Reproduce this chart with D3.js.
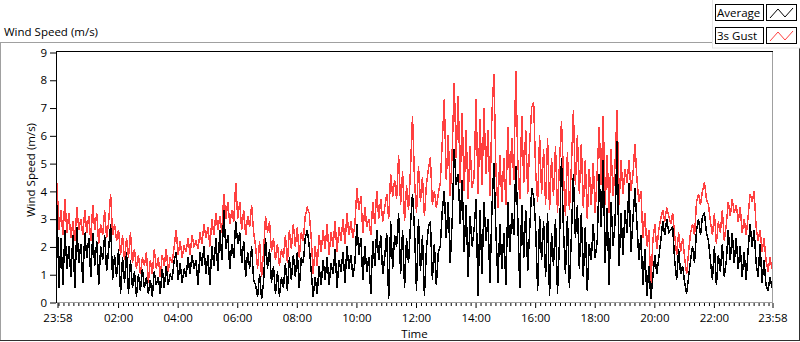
<!DOCTYPE html>
<html><head><meta charset="utf-8">
<script src="https://cdn.jsdelivr.net/npm/d3@7"></script>
<style>
body{margin:0;background:#fff;}
svg{display:block;font-family:"Open Sans",sans-serif;}
</style></head><body>
<svg id="c" width="800" height="342"></svg>
<script>
// 3s gust (m/s), one value every 4 minutes starting 23:58
const gust = [
4.3,2.6,3.3,2.4,3.7,2.5,3.2,2.3,2.9,2.2,3.4,2.6,3.0,2.4,3.3,
2.5,3.1,2.2,3.5,2.6,3.2,2.1,2.8,2.4,3.3,2.3,2.9,3.9,2.4,2.8,
2.2,2.6,1.7,2.4,1.5,2.3,1.6,2.5,1.4,1.9,1.2,1.7,1.0,1.6,1.3,
1.8,0.7,1.5,1.0,1.9,1.2,1.6,0.9,1.7,1.3,1.9,1.1,1.6,1.4,2.0,
2.6,1.7,2.2,1.6,2.0,1.8,2.3,1.7,2.4,2.0,2.2,1.9,2.5,2.1,2.8,
2.3,2.7,2.0,3.0,2.4,3.2,2.6,3.1,2.5,3.9,3.0,3.6,2.8,3.3,2.9,
4.3,3.0,3.6,2.6,3.3,2.4,3.1,2.7,3.5,2.5,2.0,1.2,2.2,0.9,1.8,
3.1,2.5,2.9,1.8,2.3,1.5,2.1,1.3,1.9,1.6,2.4,1.4,2.6,1.9,2.8,
2.0,2.7,1.6,2.5,2.2,3.1,3.4,3.2,2.3,1.0,2.0,1.3,2.4,1.8,2.6,
1.9,2.8,1.7,2.5,2.0,2.9,1.8,2.7,2.2,3.0,2.1,3.2,2.4,2.9,2.3,
2.8,4.1,3.3,3.8,2.5,3.4,2.7,3.0,2.4,3.6,2.8,4.0,3.0,3.7,2.9,
3.4,3.9,3.0,4.6,3.8,4.4,3.7,5.3,3.5,4.7,2.9,4.2,3.3,4.8,6.7,
4.4,3.2,4.9,3.6,4.5,3.1,4.2,4.8,5.2,3.5,4.0,3.4,3.9,4.3,5.8,
7.3,4.4,6.0,3.8,5.5,7.9,5.2,7.4,4.3,6.8,4.0,6.2,3.7,5.6,4.1,
4.5,7.3,3.9,6.6,4.2,7.0,4.6,6.2,3.8,6.8,8.2,4.7,3.4,5.3,3.6,
5.2,3.5,6.3,4.2,5.9,4.4,8.3,5.1,3.7,6.7,4.3,6.2,3.9,5.7,7.0,
7.2,4.7,3.6,6.0,3.9,5.5,3.5,5.9,3.3,5.2,3.8,5.6,3.2,5.0,6.5,
4.6,3.1,5.4,3.3,4.9,6.9,4.2,6.0,3.9,5.7,3.4,5.1,3.0,4.8,3.5,
5.0,3.2,4.7,6.3,4.2,6.7,3.5,5.3,3.2,5.5,3.8,5.0,6.9,3.5,5.1,
3.9,4.8,4.3,5.1,4.0,4.6,5.7,4.4,3.6,4.0,2.3,3.2,2.0,2.6,0.5,
2.2,2.8,1.9,2.6,3.0,3.3,2.9,3.4,3.1,2.8,3.2,2.4,1.7,2.5,1.8,
2.3,1.6,1.0,1.8,2.5,2.8,2.4,3.6,3.9,3.5,4.0,4.3,3.7,3.5,2.9,
2.4,3.2,2.1,2.9,2.5,3.3,2.2,2.8,3.6,3.1,3.7,3.2,3.5,2.9,3.4,
2.5,3.0,2.4,3.1,3.9,3.6,4.0,2.7,2.2,2.6,1.8,2.3,1.5,1.1,1.6,1.2
];
// Average (m/s), one value every 4 minutes starting 23:58
const avg = [
3.5,0.5,2.3,0.6,2.6,1.2,2.0,0.9,2.4,0.5,2.7,1.4,2.1,0.7,2.5,
1.6,2.3,0.9,2.5,1.3,2.2,0.6,2.0,1.5,2.4,1.1,1.9,2.8,0.8,1.7,
0.9,1.9,0.3,1.6,0.7,1.8,0.3,1.5,0.5,1.1,0.2,1.0,0.4,1.2,0.5,
0.9,0.3,0.8,0.2,1.1,0.6,0.9,0.3,1.2,0.5,1.3,0.6,1.0,0.8,1.5,
1.8,0.8,1.4,0.7,1.2,0.9,1.6,1.0,1.7,1.2,1.5,0.6,1.8,1.3,2.0,
1.0,1.7,0.6,2.0,1.3,2.3,1.1,2.6,1.5,3.3,1.9,2.4,1.2,2.1,1.6,
2.9,2.1,2.5,1.4,2.2,0.9,1.8,1.2,2.0,0.8,0.6,0.2,1.0,0.1,0.7,
2.3,1.2,1.9,0.7,1.3,0.3,1.1,0.2,0.9,0.5,1.4,0.4,1.6,0.8,1.7,
0.9,1.8,0.5,1.6,1.4,2.3,2.6,2.0,1.1,0.2,0.9,0.3,1.3,0.6,1.5,
0.8,1.6,0.6,1.4,1.0,1.9,0.5,1.5,1.1,1.8,0.7,2.0,1.2,1.7,0.9,
1.4,2.8,1.7,2.3,0.8,2.0,1.1,1.6,0.3,2.2,1.3,2.6,1.5,2.4,1.0,
1.6,2.5,0.1,2.9,1.2,2.4,2.0,3.2,1.0,2.6,0.5,2.3,1.4,2.8,3.9,
2.6,0.4,3.0,1.1,2.4,0.2,1.9,2.7,2.9,0.8,2.1,0.6,1.8,2.0,3.3,
4.0,2.3,3.6,1.4,3.0,5.5,4.2,4.6,2.8,4.4,1.8,3.5,0.9,3.1,2.0,
2.6,3.7,0.2,3.3,1.0,3.6,2.2,3.0,0.7,3.4,5.0,2.5,0.7,2.8,1.2,
2.5,0.6,3.6,1.8,3.2,2.4,4.9,3.0,0.5,3.5,1.6,3.3,1.1,2.6,4.1,
3.8,2.7,0.4,3.1,1.5,2.9,0.9,3.2,0.2,2.5,1.3,3.0,0.3,2.2,5.2,
2.6,1.0,3.1,0.5,2.4,4.6,2.3,3.5,1.2,3.2,0.9,2.7,0.4,2.1,1.5,
2.8,1.6,2.2,4.6,2.7,5.1,1.4,3.4,0.6,3.6,2.0,2.9,5.8,1.3,3.2,
1.7,3.3,2.5,4.3,1.8,3.0,4.1,2.8,1.5,2.4,0.6,1.9,0.2,1.3,0.1,
0.9,1.7,1.0,1.6,2.2,2.9,2.4,3.0,2.5,2.6,2.7,1.5,0.8,1.9,1.0,
1.3,0.7,0.3,0.9,1.5,2.0,1.4,2.6,3.0,2.4,3.1,3.2,2.5,2.2,1.5,
0.8,2.0,0.6,1.7,1.1,2.1,0.9,1.5,2.6,1.5,2.5,1.4,2.3,1.2,2.0,
0.9,1.8,0.8,1.9,2.8,2.0,2.6,1.4,0.9,2.1,0.7,1.5,0.6,0.4,0.9,0.5
];
const stepMinutes = 4;
const xTickMinutes = [0,122,242,362,482,602,722,842,962,1082,1202,1322,1440];
const xTickLabels = ["23:58","02:00","04:00","06:00","08:00","10:00","12:00","14:00","16:00","18:00","20:00","22:00","23:58"];
const yTicks = [0,1,2,3,4,5,6,7,8,9];
const seriesNames = ["Average","3s Gust"];
const seriesColors = ["#000000","#ff4040"];

const FS = 11.5;
const svg = d3.select("#c");
const L = 57, R = 772, T = 52, B = 302;
const x = d3.scaleLinear().domain([0,1440]).range([L, R]);
const y = d3.scaleLinear().domain([0,9]).range([B, T]);

// outer frame
svg.append("line").attr("x1",0).attr("x2",712).attr("y1",42.5).attr("y2",42.5).attr("stroke","#a0a0a0");
svg.append("line").attr("x1",0.5).attr("x2",0.5).attr("y1",42).attr("y2",341).attr("stroke","#a0a0a0");
svg.append("line").attr("x1",0).attr("x2",800).attr("y1",340.5).attr("y2",340.5).attr("stroke","#303030");
svg.append("line").attr("x1",799.5).attr("x2",799.5).attr("y1",48).attr("y2",341).attr("stroke","#303030");

// title
svg.append("text").attr("x",4).attr("y",36).attr("font-size",FS).attr("fill","#000").text("Wind Speed (m/s)");

// plot frame
svg.append("line").attr("x1",L).attr("x2",R+1).attr("y1",B+0.5).attr("y2",B+0.5).attr("stroke","#a0a0a0");
svg.append("line").attr("x1",R+0.5).attr("x2",R+0.5).attr("y1",T).attr("y2",B+1).attr("stroke","#a0a0a0");
svg.append("line").attr("x1",L).attr("x2",R+1).attr("y1",T-0.5).attr("y2",T-0.5).attr("stroke","#000");
svg.append("line").attr("x1",L-0.5).attr("x2",L-0.5).attr("y1",T-1).attr("y2",B+1).attr("stroke","#000");

// clip
svg.append("clipPath").attr("id","clip").append("rect").attr("x",L).attr("y",T).attr("width",R-L).attr("height",B-T+1);

const line = d3.line().x((d,i)=>x(i*stepMinutes)).y(d=>y(d));
const g = svg.append("g").attr("clip-path","url(#clip)");
g.append("path").datum(gust).attr("d",line).attr("fill","none").attr("stroke",seriesColors[1]).attr("stroke-width",1.5).attr("stroke-linejoin","miter").attr("shape-rendering","crispEdges");
g.append("path").datum(avg).attr("d",line).attr("fill","none").attr("stroke",seriesColors[0]).attr("stroke-width",1.5).attr("stroke-linejoin","miter").attr("shape-rendering","crispEdges");

// y axis
const ya = svg.append("g").attr("transform",`translate(${L-1},0.5)`)
  .call(d3.axisLeft(y).tickValues(yTicks).tickSize(6).tickPadding(3).tickFormat(d3.format("d")));
ya.select(".domain").remove();
ya.selectAll("text").attr("font-family","Open Sans").attr("font-size",FS).attr("fill","#000");
ya.selectAll("line").attr("stroke","#000");

// x axis minor ticks
const minor = d3.range(2,1440,10).filter(m=>!xTickMinutes.includes(m));
const xm = svg.append("g").attr("transform",`translate(0.5,${B+1})`)
  .call(d3.axisBottom(x).tickValues(minor).tickSize(3).tickFormat(""));
xm.select(".domain").remove();
xm.selectAll("line").attr("stroke","#000");
// x axis major ticks
const xa = svg.append("g").attr("transform",`translate(0.5,${B+1})`)
  .call(d3.axisBottom(x).tickValues(xTickMinutes).tickSize(5).tickPadding(6).tickFormat((d,i)=>xTickLabels[i]));
xa.select(".domain").remove();
xa.selectAll("line").attr("stroke","#000");
xa.selectAll("text").attr("font-family","Open Sans").attr("font-size",FS).attr("fill","#000");

// axis titles
svg.append("text").attr("x",(L+R)/2).attr("y",338).attr("text-anchor","middle").attr("font-size",FS).attr("fill","#000").text("Time");
svg.append("text").attr("transform","translate(35,170) rotate(-90)").attr("text-anchor","middle").attr("font-size",FS).attr("fill","#000").text("Wind Speed (m/s)");

// legend
svg.append("rect").attr("x",712.5).attr("y",-1).attr("width",88).attr("height",49).attr("fill","#fff").attr("stroke","#e4e4e4");
seriesNames.forEach((name,i)=>{
  const y0 = 4 + i*23;
  svg.append("rect").attr("x",715.5).attr("y",y0+0.5).attr("width",48).attr("height",16).attr("fill","#fff").attr("stroke","#000");
  svg.append("text").attr("x",717).attr("y",y0+13).attr("font-size",FS).attr("fill","#000").text(name);
  svg.append("rect").attr("x",766.5).attr("y",y0+0.5).attr("width",30).attr("height",16).attr("fill","#fff").attr("stroke","#000");
  svg.append("polyline").attr("points",`770,${y0+14} 778,${y0+5} 785,${y0+13} 793,${y0+4}`).attr("fill","none").attr("stroke",seriesColors[i]);
});
</script>
</body></html>
